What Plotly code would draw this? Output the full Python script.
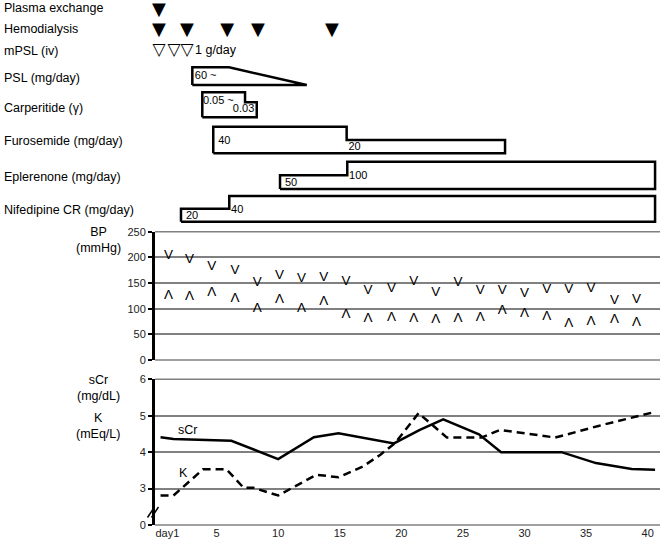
import plotly.graph_objects as go

# ---------------- data ----------------
drug_labels = ["Plasma exchange", "Hemodialysis", "mPSL (iv)", "PSL (mg/day)",
               "Carperitide (γ)", "Furosemide (mg/day)", "Eplerenone (mg/day)",
               "Nifedipine CR (mg/day)"]

plasma_days = [0.32]
hd_days = [0.32, 2.6, 5.85, 8.36, 14.37]
mpsl_days = [0.32, 1.54, 2.6]
mpsl_text = "1 g/day"

psl_days = [3.03, 6.01, 12.32]
psl_doses = [60, 60, 0]
psl_text = ["60 ~"]

carp_days = [3.84, 7.31, 8.26]
carp_doses = [0.05, 0.03]
carp_text = ["0.05 ~", "0.03"]

furo_days = [4.73, 15.56, 28.42]
furo_doses = [40, 20]
furo_text = ["40", "20"]

eple_days = [10.15, 15.61, 40.6]
eple_doses = [50, 100]
eple_text = ["50", "100"]

nife_days = [2.11, 6.03, 40.6]
nife_doses = [20, 40]
nife_text = ["20", "40"]

bp_days = [1.1, 2.8, 4.6, 6.5, 8.3, 10.1, 11.9, 13.7, 15.5, 17.3, 19.2, 21.0,
           22.8, 24.6, 26.4, 28.2, 30.0, 31.8, 33.6, 35.4, 37.3, 39.1]
sbp = [203, 196, 182, 174, 151, 164, 159, 161, 153, 135, 140, 153,
       132, 151, 136, 136, 129, 138, 138, 140, 115, 117]
dbp = [125, 123, 131, 119, 101, 117, 101, 114, 88, 80, 83, 80,
       78, 80, 83, 96, 90, 84, 70, 75, 78, 73]

scr_days = [0.45, 1.5, 6.2, 10.0, 12.9, 14.9, 19.4, 21.5, 23.4, 26.3, 28.1, 33.0, 35.8, 38.7, 40.6]
scr = [4.41, 4.36, 4.31, 3.81, 4.41, 4.52, 4.24, 4.61, 4.90, 4.49, 4.00, 4.00, 3.70, 3.54, 3.52]

k_days = [0.45, 1.5, 3.9, 5.8, 7.2, 8.0, 10.0, 13.1, 14.9, 16.9, 18.3, 19.5, 21.4,
          23.7, 26.5, 28.0, 30.4, 32.5, 36.0, 40.3]
k = [2.81, 2.81, 3.53, 3.53, 3.02, 3.02, 2.81, 3.38, 3.31, 3.61, 3.93, 4.25, 5.07,
     4.40, 4.40, 4.61, 4.50, 4.40, 4.72, 5.08]

x_tick_vals = [1, 5, 10, 15, 20, 25, 30, 35, 40]
x_tick_text = ["day1", "5", "10", "15", "20", "25", "30", "35", "40"]
bp_ticks = [0, 50, 100, 150, 200, 250]
lab_tick_vals = [2, 3, 4, 5, 6]
lab_tick_text = ["0", "3", "4", "5", "6"]

# ---------------- layout geometry ----------------
FONT = "Liberation Sans, Arial, sans-serif"
W, H = 661, 547
L, R, T, B = 155, 1, 0, 22
PW = W - L - R
PH = H - T - B
X_RANGE = [0, 41]
TOP_PX = 225
BP_PX = (231.7, 360)
LAB_PX = (379.3, 525)


def py2paper(py):
    return (PH - (py - T)) / PH


def px2paper(px):
    return (px - L) / PW


label_y = [7.5, 28.5, 50.5, 78, 107.5, 141, 176.5, 210]
event_y = {"plasma": 10, "hd": 30.5, "mpsl": 50.5}
GRID = "#808080"
BAR_LW = 2.5

fig = go.Figure()


def add_poly(xs, ys):
    fig.add_trace(go.Scatter(x=xs, y=ys, mode="lines", fill="toself",
                             fillcolor="white", line=dict(color="black", width=BAR_LW),
                             xaxis="x", yaxis="y", hoverinfo="skip", cliponaxis=False))


def step_poly(breaks, doses, bottom, full_h):
    maxd = max(doses)
    xs, ys = [breaks[0]], [bottom]
    for i, d in enumerate(doses):
        h = full_h * d / maxd
        xs += [breaks[i], breaks[i + 1]]
        ys += [bottom - h, bottom - h]
    xs += [breaks[-1], breaks[0]]
    ys += [bottom, bottom]
    return xs, ys


def add_text(xs, ys, texts, anchor="left", size=11):
    fig.add_trace(go.Scatter(x=xs, y=ys, mode="text", text=texts,
                             textposition="middle right" if anchor == "left" else "middle left",
                             textfont=dict(family=FONT, size=size, color="black"),
                             xaxis="x", yaxis="y", hoverinfo="skip", cliponaxis=False))


# PSL (tapering)
psl_bottom, psl_h = 85, 17.7
pmax = max(psl_doses)
add_poly([psl_days[0]] + psl_days + [psl_days[0]],
         [psl_bottom] + [psl_bottom - psl_h * d / pmax for d in psl_doses] + [psl_bottom])
add_text([psl_days[0] + 0.2], [psl_bottom - psl_h / 2 + 0.5], psl_text)

# step drugs
step_rows = [
    (carp_days, carp_doses, carp_text, 117.3, 25.0),
    (furo_days, furo_doses, furo_text, 153.3, 26.6),
    (eple_days, eple_doses, eple_text, 189.0, 27.3),
    (nife_days, nife_doses, nife_text, 221.7, 25.7),
]
for i, (bd, ds, tx, bottom, fh) in enumerate(step_rows):
    xs, ys = step_poly(bd, ds, bottom, fh)
    add_poly(xs, ys)
    maxd = max(ds)
    if i == 0:
        add_text([bd[0] + 0.05], [bottom - fh + 8.5], [tx[0]])
        add_text([bd[-1] - 0.2], [bottom - fh * ds[1] / maxd / 2 - 0.5], [tx[1]], anchor="right")
    else:
        for j, d in enumerate(ds):
            h = fh * d / maxd
            off = 0.4 if j == 0 else 0.15
            add_text([bd[j] + off], [bottom - h / 2 + 1], [tx[j]])


# events
def add_events(days, y, glyph, size):
    fig.add_trace(go.Scatter(x=days, y=[y] * len(days), mode="text", text=[glyph] * len(days),
                             textposition="middle center",
                             textfont=dict(family="DejaVu Sans", size=size, color="black"),
                             xaxis="x", yaxis="y", hoverinfo="skip", cliponaxis=False))


add_events(plasma_days, event_y["plasma"], "▼", 18)
add_events(hd_days, event_y["hd"], "▼", 18)
add_events(mpsl_days, event_y["mpsl"], "▽", 17)
add_text([mpsl_days[-1] + 0.65], [event_y["mpsl"]], [mpsl_text], size=12.5)

# BP
fig.add_trace(go.Scatter(x=bp_days, y=sbp, mode="text", text=["V"] * len(sbp),
                         textposition="middle center",
                         textfont=dict(family=FONT, size=13.5, color="black"),
                         xaxis="x2", yaxis="y2", hoverinfo="skip", cliponaxis=False))
fig.add_trace(go.Scatter(x=bp_days, y=dbp, mode="text", text=["Λ"] * len(dbp),
                         textposition="middle center",
                         textfont=dict(family=FONT, size=13.5, color="black"),
                         xaxis="x2", yaxis="y2", hoverinfo="skip", cliponaxis=False))

# labs
fig.add_trace(go.Scatter(x=scr_days, y=scr, mode="lines", line=dict(color="black", width=2.5),
                         xaxis="x3", yaxis="y3", hoverinfo="skip"))
fig.add_trace(go.Scatter(x=k_days, y=k, mode="lines",
                         line=dict(color="black", width=2.5, dash="8px,5px"),
                         xaxis="x3", yaxis="y3", hoverinfo="skip"))

annotations = []
for name, y in zip(drug_labels, label_y):
    annotations.append(dict(text=name, x=px2paper(2), xref="paper", y=y, yref="y",
                            xanchor="left", yanchor="middle", showarrow=False,
                            font=dict(family=FONT, size=12.5, color="black")))
for txt, py in (("BP<br>(mmHg)", 240), ("sCr<br>(mg/dL)", 387.5), ("K<br>(mEq/L)", 426)):
    annotations.append(dict(text=txt, x=px2paper(98), xref="paper", y=py2paper(py), yref="paper",
                            xanchor="center", yanchor="middle", showarrow=False, align="center",
                            font=dict(family=FONT, size=12.5, color="black")))
annotations += [
    dict(text="sCr", x=2.6, xref="x3", y=4.6, yref="y3", showarrow=False,
         xanchor="center", yanchor="middle", font=dict(family=FONT, size=12.5, color="black")),
    dict(text="K", x=2.3, xref="x3", y=3.43, yref="y3", showarrow=False,
         xanchor="center", yanchor="middle", font=dict(family=FONT, size=12.5, color="black")),
]

shapes = []
# edge grid lines (bottom and top of each chart panel), in paper coords so they are not clipped
for py in (BP_PX[0], BP_PX[1], LAB_PX[0], LAB_PX[1]):
    shapes.append(dict(type="line", xref="paper", yref="paper", x0=0, x1=1,
                       y0=py2paper(py), y1=py2paper(py), layer="above",
                       line=dict(color=GRID, width=1.5)))
# axis break marks
for dx in (0, 4):
    shapes.append(dict(type="line", xref="paper", yref="paper",
                       x0=px2paper(147.5 + dx), y0=py2paper(517.5),
                       x1=px2paper(154.5 + dx), y1=py2paper(507),
                       line=dict(color="black", width=1.5)))

tickfont = dict(family=FONT, size=11, color="#222")
fig.update_layout(
    width=W, height=H, margin=dict(l=L, r=R, t=T, b=B, autoexpand=False),
    paper_bgcolor="white", plot_bgcolor="white", showlegend=False,
    annotations=annotations, shapes=shapes,
    xaxis=dict(domain=[0, 1], range=X_RANGE, anchor="y", visible=False),
    yaxis=dict(domain=[py2paper(TOP_PX), 1], range=[TOP_PX, 0], anchor="x", visible=False),
    xaxis2=dict(domain=[0, 1], range=X_RANGE, anchor="y2", matches="x", showticklabels=False,
                showgrid=False, zeroline=False, showline=False, ticks=""),
    yaxis2=dict(domain=[py2paper(BP_PX[1]), py2paper(BP_PX[0])], range=[0, 250], anchor="x2",
                tickvals=bp_ticks, showgrid=True, gridcolor=GRID, gridwidth=1.5,
                zeroline=False, showline=True, linewidth=3, linecolor="black",
                ticks="outside", ticklen=4, tickwidth=2, tickcolor="black", tickfont=tickfont),
    xaxis3=dict(domain=[0, 1], range=X_RANGE, anchor="y3", matches="x",
                tickvals=x_tick_vals, ticktext=x_tick_text, showgrid=False, zeroline=False,
                showline=False, ticks="", tickfont=tickfont),
    yaxis3=dict(domain=[py2paper(LAB_PX[1]), py2paper(LAB_PX[0])], range=[2, 6], anchor="x3",
                tickvals=lab_tick_vals, ticktext=lab_tick_text, showgrid=True,
                gridcolor=GRID, gridwidth=1.5, zeroline=False, showline=True, linewidth=3,
                linecolor="black", ticks="outside", ticklen=4, tickwidth=2, tickcolor="black",
                tickfont=tickfont),
)

fig.write_html("out.html", config={"displayModeBar": False},
               post_script="document.body.style.margin='0';")
